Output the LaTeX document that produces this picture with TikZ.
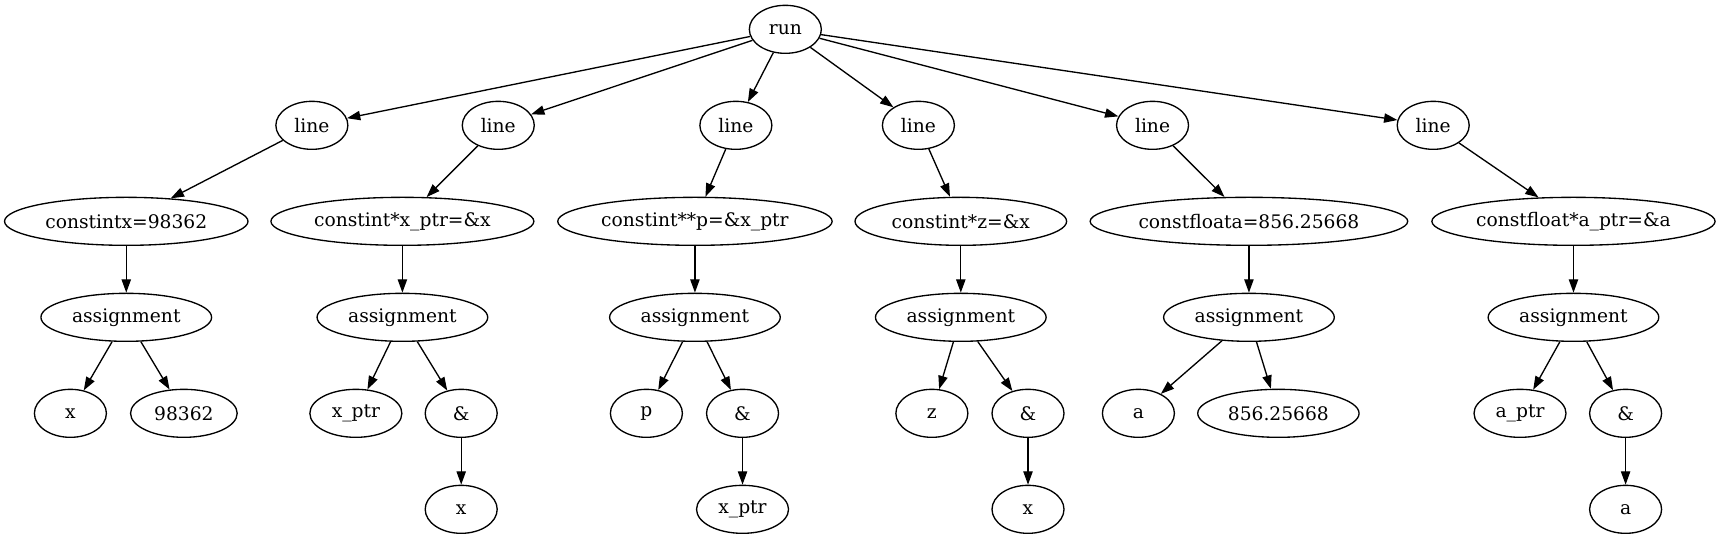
\documentclass[tikz,border=0pt]{standalone}
\usepackage{fontspec}
\setmainfont{DejaVu Serif}
\usetikzlibrary{shapes.geometric,arrows.meta}
\tikzset{
  nd/.style={ellipse, draw, line width=1pt, inner sep=0pt, minimum height=36pt, minimum width=#1, font=\fontsize{14}{16}\selectfont},
  nd/.default=54pt,
  ed/.style={line width=1pt, -{Triangle[length=10pt,width=7pt]}}
}
\begin{document}
\begin{tikzpicture}[x=1pt,y=1pt]
\useasboundingbox (0,0) rectangle (1290,404);
% rank 0
\node[nd] (run) at (589,382) {run};
% rank 1
\node[nd] (l1) at (233.9,310) {line};
\node[nd] (l2) at (373.7,310) {line};
\node[nd] (l3) at (551.9,310) {line};
\node[nd] (l4) at (688.8,310) {line};
\node[nd] (l5) at (864.4,310) {line};
\node[nd] (l6) at (1074.9,310) {line};
% rank 2
\node[nd=182.6pt] (c1) at (94.7,238) {constintx=98362};
\node[nd=197.2pt] (c2) at (301.8,238) {constint*x\_ptr=\&x};
\node[nd=205.8pt] (c3) at (521.2,238) {constint**p=\&x\_ptr};
\node[nd=158.7pt] (c4) at (720.6,238) {constint*z=\&x};
\node[nd=238.2pt] (c5) at (936.7,238) {constfloata=856.25668};
\node[nd=212.4pt] (c6) at (1180.1,238) {constfloat*a\_ptr=\&a};
% rank 3
\node[nd=128pt] (a1) at (94.7,166) {assignment};
\node[nd=128pt] (a2) at (301.8,166) {assignment};
\node[nd=128pt] (a3) at (521.2,166) {assignment};
\node[nd=128pt] (a4) at (720.6,166) {assignment};
\node[nd=128pt] (a5) at (936.7,166) {assignment};
\node[nd=128pt] (a6) at (1180.1,166) {assignment};
% rank 4
\node[nd] (x1) at (52.8,94) {x};
\node[nd=80pt] (v1) at (137.9,94) {98362};
\node[nd=69pt] (p2) at (266.9,94) {x\_ptr};
\node[nd] (m2) at (345.9,94) {\&};
\node[nd] (p3) at (484.8,94) {p};
\node[nd] (m3) at (556.9,94) {\&};
\node[nd] (z4) at (698.9,94) {z};
\node[nd] (m4) at (771,94) {\&};
\node[nd] (a5l) at (853.8,94) {a};
\node[nd=121pt] (v5) at (958.8,94) {856.25668};
\node[nd=69pt] (p6) at (1140,94) {a\_ptr};
\node[nd] (m6) at (1219.2,94) {\&};
% rank 5
\node[nd] (x2) at (345.9,22) {x};
\node[nd=69pt] (xp3) at (556.9,22) {x\_ptr};
\node[nd] (x4) at (771,22) {x};
\node[nd] (a6l) at (1219.2,22) {a};
% edges
\foreach \i in {1,...,6} {
  \draw[ed] (run) -- (l\i);
  \draw[ed] (l\i) -- (c\i);
  \draw[ed] (c\i) -- (a\i);
}
\draw[ed] (a1) -- (x1);
\draw[ed] (a1) -- (v1);
\draw[ed] (a2) -- (p2);
\draw[ed] (a2) -- (m2);
\draw[ed] (m2) -- (x2);
\draw[ed] (a3) -- (p3);
\draw[ed] (a3) -- (m3);
\draw[ed] (m3) -- (xp3);
\draw[ed] (a4) -- (z4);
\draw[ed] (a4) -- (m4);
\draw[ed] (m4) -- (x4);
\draw[ed] (a5) -- (a5l);
\draw[ed] (a5) -- (v5);
\draw[ed] (a6) -- (p6);
\draw[ed] (a6) -- (m6);
\draw[ed] (m6) -- (a6l);
\end{tikzpicture}
\end{document}
